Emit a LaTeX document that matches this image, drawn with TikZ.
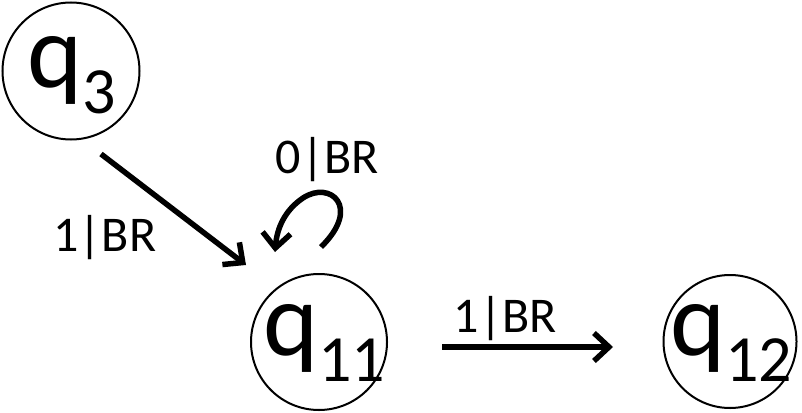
\documentclass[tikz,border=0pt]{standalone}
\usepackage{fontspec}
\setmainfont{Carlito}
\usetikzlibrary{arrows.meta}
\newcommand{\qbig}{\fontsize{105}{105}\selectfont}
\newcommand{\qsub}[1]{\raisebox{-26pt}{\fontsize{66}{66}\selectfont #1}}
\begin{document}
\begin{tikzpicture}[x=1pt,y=-1pt,
  state/.style={draw,circle,line width=2pt,inner sep=0pt},
  stxt/.style={anchor=base west,inner sep=0pt,font=\qbig},
  lbl/.style={inner sep=0pt,font=\fontsize{50}{50}\selectfont},
  edge/.style={line width=5.5pt,-{Straight Barb[length=15pt,width=28pt,line width=5.5pt]}}]
\useasboundingbox (0,0) rectangle (802,412);
\node[state,minimum size=137pt] (q3) at (71,71) {};
\node[state,minimum size=136pt] (q11) at (319,342) {};
\node[state,minimum size=133pt] (q12) at (730,341.5) {};
\node[stxt] (t3) at (27,87) {q\qsub{3}};
\node[stxt] (t11) at (263,355) {q\qsub{11}};
\node[stxt] (t12) at (670,355) {q\qsub{12}};
\coordinate (a1) at (101,154);
\coordinate (a2) at (246,265);
\draw[edge] (a1) -- (a2);
\coordinate (b1) at (442,347);
\coordinate (b2) at (613,347);
\draw[edge] (b1) -- (b2);
\coordinate (c1) at (321,247);
\coordinate (c2) at (275,252);
\draw[edge] (c1) .. controls (362,207) and (330,180) .. (303,198) .. controls (285,210) and (277,228) .. (c2);
\node[lbl] (l1) at (105,238) {1|BR};
\node[lbl] (l2) at (505,319) {1|BR};
\node[lbl] (l3) at (327,160) {0|BR};
\end{tikzpicture}
\end{document}
